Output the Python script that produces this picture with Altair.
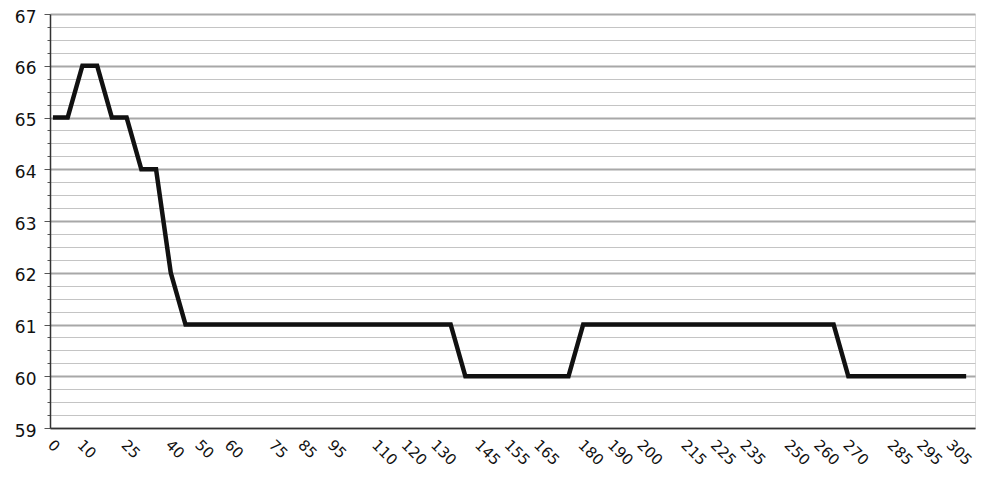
import altair as alt
import pandas as pd

# time (x) and value (y)
times = [0, 5, 10, 15, 20, 25, 30, 35, 40, 45,
         50, 55, 60, 65, 70, 75, 80, 85, 90, 95, 100, 105, 110, 115, 120, 125, 130, 135,
         140, 145, 150, 155, 160, 165, 170, 175,
         180, 185, 190, 195, 200, 205, 210, 215, 220, 225, 230, 235, 240, 245, 250, 255, 260, 265,
         270, 275, 280, 285, 290, 295, 300, 305, 310]
values = [65, 65, 66, 66, 65, 65, 64, 64, 62, 61,
          61, 61, 61, 61, 61, 61, 61, 61, 61, 61, 61, 61, 61, 61, 61, 61, 61, 61,
          60, 60, 60, 60, 60, 60, 60, 60,
          61, 61, 61, 61, 61, 61, 61, 61, 61, 61, 61, 61, 61, 61, 61, 61, 61, 61,
          60, 60, 60, 60, 60, 60, 60, 60, 60]

x_labels = [0, 10, 25, 40, 50, 60, 75, 85, 95, 110, 120, 130, 145, 155, 165,
            180, 190, 200, 215, 225, 235, 250, 260, 270, 285, 295, 305]
y_major = [59, 60, 61, 62, 63, 64, 65, 66, 67]
y_ticks = [59 + 0.25 * i for i in range(33)]

df = pd.DataFrame({"t": times, "v": values})

FONT = "DejaVu Sans"

chart = alt.Chart(df).mark_line(
    color="#111111", strokeWidth=4.5, strokeJoin="miter", strokeCap="butt"
).encode(
    x=alt.X("t:Q",
            scale=alt.Scale(domain=[-1, 313], nice=False, zero=False),
            axis=alt.Axis(values=x_labels, title=None, grid=False, ticks=False,
                          labelAngle=45, labelFont=FONT, labelFontSize=15,
                          labelColor="#111", labelPadding=9, labelOffset=2,
                          labelOverlap=False, labelFlush=False, format="d",
                          domainColor="#333", domainWidth=1.5)),
    y=alt.Y("v:Q",
            scale=alt.Scale(domain=[59, 67], nice=False, zero=False),
            axis=alt.Axis(values=y_ticks, title=None,
                          labelExpr="datum.value % 1 === 0 ? format(datum.value, 'd') : ''",
                          labelFont=FONT, labelFontSize=17, labelColor="#111",
                          labelPadding=8, labelOffset=3, labelOverlap=False,
                          tickColor="#555",
                          tickSize=alt.condition("datum.value % 1 === 0", alt.value(6), alt.value(3)),
                          gridColor=alt.condition("datum.value % 1 === 0", alt.value("#a8a8a8"), alt.value("#c4c4c4")),
                          gridWidth=alt.condition("datum.value % 1 === 0", alt.value(1.8), alt.value(1.2)),
                          domainColor="#333", domainWidth=1.5)),
).properties(
    width=925, height=414,
    autosize=alt.AutoSizeParams(type="none"),
    padding={"left": 42, "top": 6, "right": 5, "bottom": 50},
).configure_view(stroke=None).configure(background="white")

chart.save("out.html", embed_options={"renderer": "svg", "actions": False})
